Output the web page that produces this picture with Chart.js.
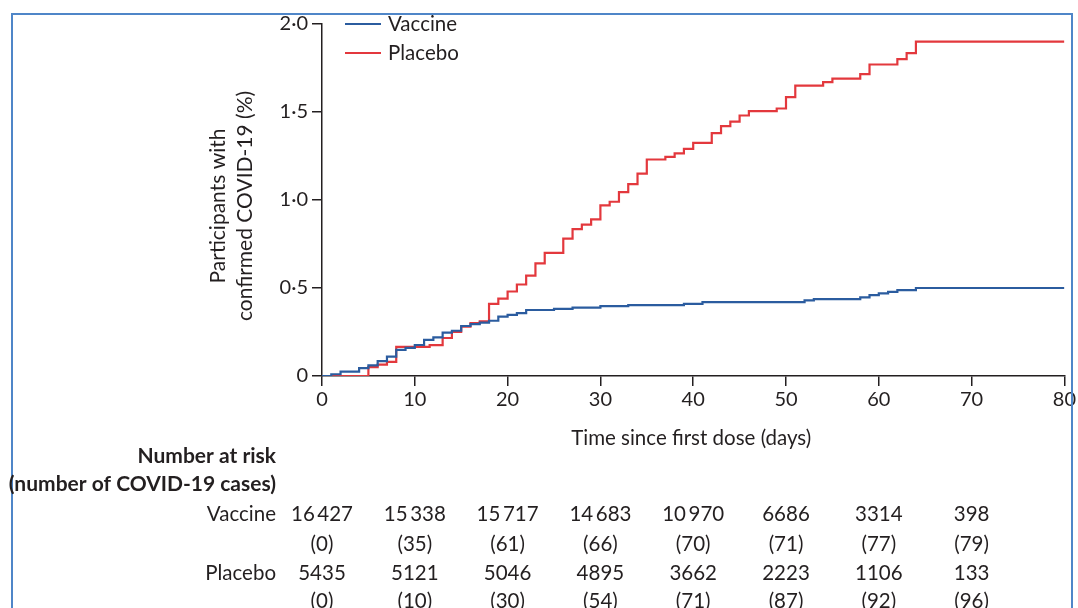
<!DOCTYPE html>
<html>
<head>
    <meta charset="utf-8">
    <title>Cumulative incidence of COVID-19</title>
    <script src="https://cdn.jsdelivr.net/npm/chart.js"></script>
    <style>
        body {
            margin: 0;
            padding: 0;
            background: #fff;
        }
        #wrap {
            width: 1078px;
            height: 608px;
        }
    </style>
</head>
<body>
    <div id="wrap"><canvas id="kmChart" width="1078" height="608"></canvas></div>

    <script>
        // step curves (day, cumulative %)
        const vaccineDays = [0, 1, 2, 4, 5, 6, 7, 8, 9, 10, 11, 12, 13, 14, 15, 16, 17, 18, 19, 20, 21, 22, 25, 27, 30, 33, 39, 41, 52, 53, 58, 59, 60, 61, 62, 64, 80];
        const vaccinePct = [0, 0.01, 0.025, 0.045, 0.06, 0.085, 0.11, 0.148, 0.16, 0.176, 0.205, 0.22, 0.246, 0.257, 0.284, 0.295, 0.303, 0.314, 0.337, 0.347, 0.357, 0.375, 0.381, 0.388, 0.397, 0.403, 0.41, 0.42, 0.43, 0.437, 0.447, 0.46, 0.47, 0.478, 0.488, 0.5, 0.5];

        const placeboDays = [0, 5, 6, 7, 8, 11.6, 13, 14, 15, 16, 17, 18, 19, 20, 21, 22, 23, 24, 26, 27, 28, 29, 30, 31, 32, 33, 34, 35, 37, 38, 39, 40, 42, 43, 44, 45, 46, 49, 50, 51, 54, 55, 58, 59, 62, 63, 64, 80];
        const placeboPct = [0, 0.05, 0.065, 0.08, 0.166, 0.175, 0.216, 0.25, 0.28, 0.30, 0.31, 0.41, 0.44, 0.48, 0.52, 0.57, 0.64, 0.70, 0.78, 0.835, 0.86, 0.89, 0.97, 0.99, 1.045, 1.09, 1.15, 1.23, 1.245, 1.265, 1.29, 1.325, 1.38, 1.42, 1.445, 1.48, 1.505, 1.52, 1.585, 1.65, 1.67, 1.69, 1.715, 1.77, 1.80, 1.835, 1.90, 1.90];

        // number at risk table
        const riskDays = [0, 10, 20, 30, 40, 50, 60, 70];
        const vaccineAtRisk = [16427, 15338, 15717, 14683, 10970, 6686, 3314, 398];
        const vaccineCases = [0, 35, 61, 66, 70, 71, 77, 79];
        const placeboAtRisk = [5435, 5121, 5046, 4895, 3662, 2223, 1106, 133];
        const placeboCases = [0, 10, 30, 54, 71, 87, 92, 96];

        const xTicks = [0, 10, 20, 30, 40, 50, 60, 70, 80];
        const yTicks = [0, 0.5, 1.0, 1.5, 2.0];

        const BLUE = '#2b5c9f';
        const RED = '#e3383d';
        const INK = '#231f20';
        const FONT = 'Lato, "Noto Sans", sans-serif';

        function toPoints(days, vals) {
            return days.map((d, i) => ({ x: d, y: vals[i] }));
        }

        // thin space for 5 digit numbers, like the journal does
        function fmtCount(n) {
            const s = String(n);
            return s.length > 4 ? s.slice(0, s.length - 3) + '\u2009' + s.slice(-3) : s;
        }

        const extras = {
            id: 'extras',
            afterDraw(chart) {
                const ctx = chart.ctx;
                const x = chart.scales.x;
                const area = chart.chartArea;
                ctx.save();

                // blue frame round the figure
                ctx.strokeStyle = '#4f86c8';
                ctx.lineWidth = 2;
                ctx.beginPath();
                ctx.moveTo(12, 608);
                ctx.lineTo(12, 14);
                ctx.lineTo(1072, 14);
                ctx.lineTo(1072, 608);
                ctx.stroke();

                ctx.fillStyle = INK;

                // y axis title, two lines
                ctx.save();
                ctx.translate(218, 206);
                ctx.rotate(-Math.PI / 2);
                ctx.font = '21px ' + FONT;
                ctx.textAlign = 'center';
                ctx.textBaseline = 'middle';
                ctx.fillText('Participants with', 0, 0);
                ctx.fillText('confirmed COVID-19 (%)', 0, 27);
                ctx.restore();

                // x axis title
                ctx.font = '20.5px ' + FONT;
                ctx.textAlign = 'center';
                ctx.textBaseline = 'middle';
                ctx.fillText('Time since first dose (days)', (area.left + area.right) / 2 - 2, 438);

                // legend
                chart.data.datasets.forEach((ds, i) => {
                    const ly = 24 + i * 29;
                    ctx.strokeStyle = ds.borderColor;
                    ctx.lineWidth = 2;
                    ctx.beginPath();
                    ctx.moveTo(345, ly);
                    ctx.lineTo(381, ly);
                    ctx.stroke();
                    ctx.fillStyle = INK;
                    ctx.font = '20.5px ' + FONT;
                    ctx.textAlign = 'left';
                    ctx.fillText(ds.label, 388, ly);
                });

                // number at risk table
                ctx.textAlign = 'right';
                ctx.font = 'bold 21px ' + FONT;
                ctx.fillText('Number at risk', 276, 456);
                ctx.fillText('(number of COVID-19 cases)', 276, 484);

                ctx.font = '20.5px ' + FONT;
                ctx.fillText('Vaccine', 276, 514);
                ctx.fillText('Placebo', 276, 573);

                ctx.textAlign = 'center';
                riskDays.forEach((d, i) => {
                    const px = x.getPixelForValue(d);
                    ctx.fillText(fmtCount(vaccineAtRisk[i]), px, 514);
                    ctx.fillText('(' + vaccineCases[i] + ')', px, 544);
                    ctx.fillText(fmtCount(placeboAtRisk[i]), px, 573);
                    ctx.fillText('(' + placeboCases[i] + ')', px, 601);
                });

                ctx.restore();
            }
        };

        new Chart(document.getElementById('kmChart'), {
            type: 'line',
            data: {
                datasets: [
                    {
                        label: 'Vaccine',
                        data: toPoints(vaccineDays, vaccinePct),
                        borderColor: BLUE,
                        borderWidth: 2.2,
                        stepped: 'before',
                        pointRadius: 0,
                        fill: false
                    },
                    {
                        label: 'Placebo',
                        data: toPoints(placeboDays, placeboPct),
                        borderColor: RED,
                        borderWidth: 2.2,
                        stepped: 'before',
                        pointRadius: 0,
                        fill: false
                    }
                ]
            },
            options: {
                responsive: false,
                animation: false,
                devicePixelRatio: 1,
                layout: { padding: { left: 0, top: 24, right: 12, bottom: 0 } },
                plugins: {
                    legend: { display: false },
                    tooltip: { enabled: false }
                },
                scales: {
                    x: {
                        type: 'linear',
                        min: 0,
                        max: 80,
                        afterFit(scale) { scale.height = 232; },
                        afterBuildTicks(scale) { scale.ticks = xTicks.map(v => ({ value: v })); },
                        grid: { display: true, drawOnChartArea: false, drawTicks: true, tickLength: 10, color: INK, lineWidth: 1.5 },
                        border: { display: true, color: INK, width: 1.5 },
                        ticks: { color: INK, font: { family: FONT, size: 20 }, padding: 2, maxRotation: 0 }
                    },
                    y: {
                        type: 'linear',
                        min: 0,
                        max: 2,
                        afterFit(scale) { scale.width = 322; },
                        afterBuildTicks(scale) { scale.ticks = yTicks.map(v => ({ value: v })); },
                        grid: { display: true, drawOnChartArea: false, drawTicks: true, tickLength: 10, color: INK, lineWidth: 1.5 },
                        border: { display: true, color: INK, width: 1.5 },
                        ticks: {
                            color: INK,
                            font: { family: FONT, size: 20 },
                            padding: 4,
                            callback: v => v === 0 ? '0' : v.toFixed(1).replace('.', '\u00b7')
                        }
                    }
                }
            },
            plugins: [extras]
        });
    </script>
</body>
</html>
